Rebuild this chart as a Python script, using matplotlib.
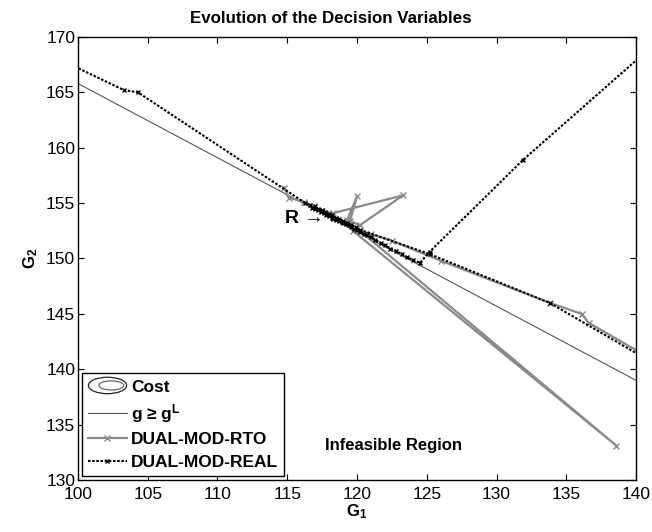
import matplotlib
matplotlib.use('Agg')
import matplotlib.pyplot as plt
from matplotlib.lines import Line2D
from matplotlib.patches import Ellipse
from matplotlib.legend_handler import HandlerBase

plt.rcParams['font.family'] = ['Liberation Sans', 'DejaVu Sans']
plt.rcParams['mathtext.fontset'] = 'custom'
plt.rcParams['mathtext.rm'] = 'Liberation Sans'
plt.rcParams['mathtext.bf'] = 'Liberation Sans:bold'
plt.rcParams['mathtext.it'] = 'Liberation Sans:italic'

# constraint line g >= g^L (end points)
g_x = [100.0, 140.0]
g_y = [165.8, 139.0]

# DUAL-MOD-REAL trajectory
real_x = [96.0, 103.3, 104.3, 116.3, 116.6, 116.8, 117.0, 117.2, 117.4, 117.6,
          117.8, 118.0, 118.2, 118.3, 118.5, 118.7, 118.9, 119.0, 119.2, 119.4,
          119.6, 119.8, 120.0, 120.2, 120.5, 120.7, 121.0, 121.3, 121.7, 122.0,
          122.4, 122.8, 123.2, 123.6, 124.0, 124.5,
          125.2, 131.9, 142.0, 142.0, 133.8, 125.2, 120.2, 119.9, 119.6, 119.3,
          119.0, 118.7, 118.5, 118.2, 118.0, 117.7, 117.5, 117.2, 117.0]
real_y = [169.6, 165.2, 165.0, 155.0, 154.8, 154.6, 154.5, 154.4, 154.2, 154.1,
          153.9, 153.8, 153.7, 153.6, 153.5, 153.4, 153.3, 153.2, 153.1, 153.0,
          152.8, 152.7, 152.6, 152.4, 152.2, 152.1, 151.9, 151.7, 151.4, 151.2,
          150.9, 150.7, 150.4, 150.1, 149.9, 149.6,
          150.6, 158.9, 170.1, 140.0, 146.0, 150.4, 152.6, 152.8, 153.0, 153.2,
          153.4, 153.6, 153.7, 153.9, 154.0, 154.2, 154.4, 154.5, 154.7]

# DUAL-MOD-RTO trajectory
rto_x = [114.8, 115.1, 116.2, 116.9, 117.5, 118.3, 123.3, 120.2, 119.5, 120.0,
         119.3, 119.7, 138.6, 120.2, 121.0, 122.5, 126.0, 133.8, 136.1, 136.6,
         141.0]
rto_y = [156.4, 155.5, 155.1, 154.7, 154.3, 154.1, 155.7, 153.0, 153.4, 155.6,
         153.5, 152.5, 133.1, 152.5, 152.2, 151.6, 149.8, 146.0, 145.0, 144.2,
         141.0]

gray = '#8a8a8a'
dots = (0, (1.2, 0.8))


class HandlerEllipses(HandlerBase):
    def create_artists(self, legend, orig_handle, xdescent, ydescent,
                       width, height, fontsize, trans):
        cx = 0.5 * width - xdescent
        cy = 0.5 * height - ydescent
        outer = Ellipse((cx, cy), width * 1.0, height * 1.35, fill=False,
                        ec='#222222', lw=0.9, transform=trans)
        inner = Ellipse((cx + width * 0.1, cy), width * 0.65, height * 0.75,
                        fill=False, ec='#666666', lw=0.9, transform=trans)
        return [outer, inner]


fig = plt.figure(figsize=(6.52, 5.32), dpi=100)
ax = fig.add_axes([0.1196, 0.0977, 0.8559, 0.8328])

ax.plot(g_x, g_y, color='#555555', lw=0.8)
ax.plot(rto_x, rto_y, color=gray, lw=1.6, marker='x', ms=4, mew=1.0)
ax.plot(real_x, real_y, color='black', lw=1.5, ls=dots, marker='x',
        ms=3.5, mew=1.0)

ax.set_xlim(100, 140)
ax.set_ylim(130, 170)
ax.set_xticks(range(100, 141, 5))
ax.set_yticks(range(130, 171, 5))
ax.tick_params(direction='in', top=True, right=True, length=4, labelsize=12.5)
ax.tick_params(axis='x', pad=5)
ax.tick_params(axis='y', pad=2)
for s in ax.spines.values():
    s.set_linewidth(1.0)

ax.set_title('Evolution of the Decision Variables', fontweight='bold',
             fontsize=12.2, pad=10, x=0.453)
ax.set_xlabel(r'G$_\mathbf{1}$', fontweight='bold', fontsize=12, labelpad=0)
ax.set_ylabel(r'G$_\mathbf{2}$', fontweight='bold', fontsize=12, labelpad=4)

ax.text(116.2, 153.6, 'R \u2192', fontweight='bold', fontsize=14,
        ha='center', va='center')
ax.text(122.6, 133.1, 'Infeasible Region', fontweight='bold', fontsize=12,
        ha='center', va='center')

cost_proxy = Line2D([], [])
handles = [cost_proxy,
           Line2D([], [], color='#555555', lw=0.8),
           Line2D([], [], color=gray, lw=1.6, marker='x', ms=4, mew=1.0),
           Line2D([], [], color='black', lw=1.5, ls=dots, marker='x',
                  ms=3.5, mew=1.0)]
labels = ['Cost', 'g \u2265 g$^\\mathbf{L}$', 'DUAL-MOD-RTO', 'DUAL-MOD-REAL']
leg = ax.legend(handles, labels, loc='lower left',
                handler_map={cost_proxy: HandlerEllipses()},
                prop={'weight': 'bold', 'size': 12.5}, fancybox=False,
                edgecolor='black', framealpha=1, handlelength=2.2,
                borderaxespad=0.25, labelspacing=0.42, handletextpad=0.25,
                borderpad=0.35)
leg.get_frame().set_linewidth(1.0)

fig.savefig('out.png', dpi=100)
